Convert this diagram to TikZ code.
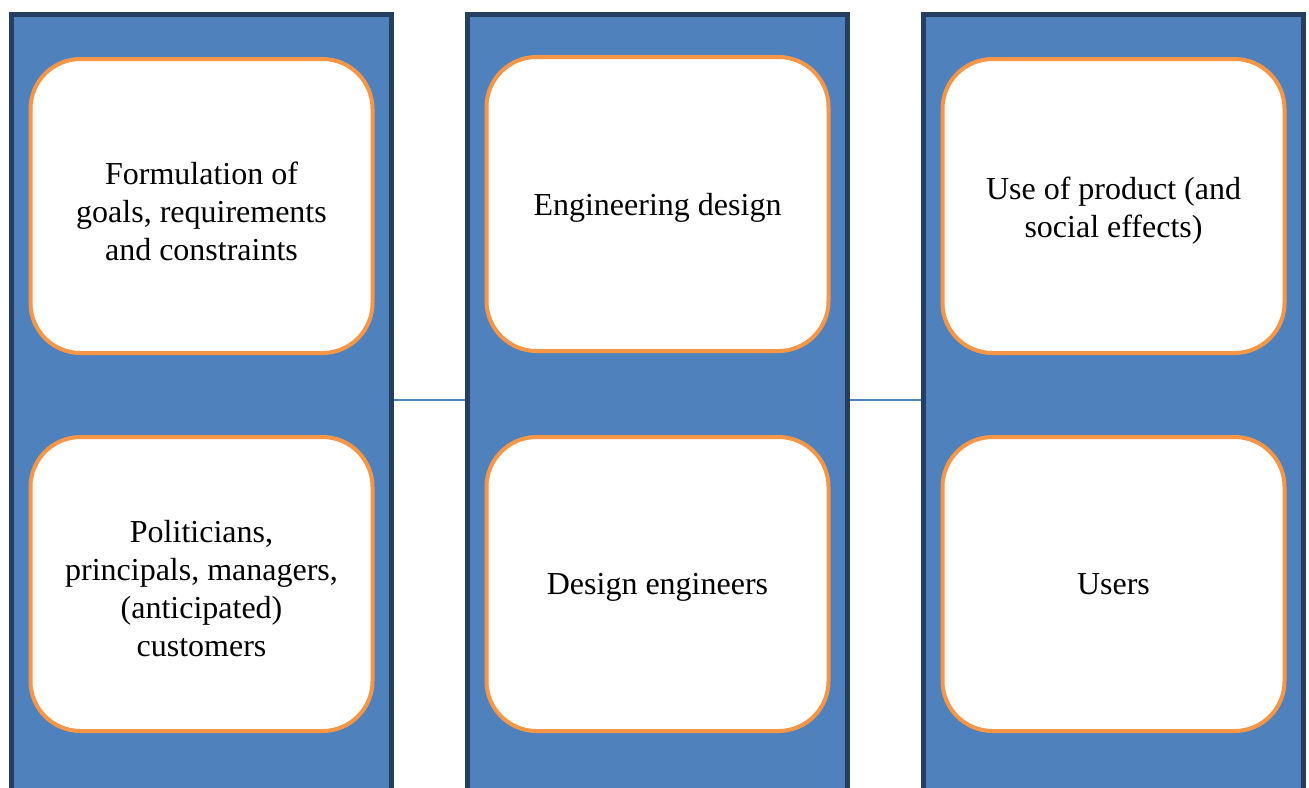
\documentclass[tikz,border=0pt]{standalone}
\usepackage{fontspec}
\setmainfont{Liberation Serif}
\usetikzlibrary{positioning}

\definecolor{colfill}{HTML}{4F81BD}
\definecolor{coldraw}{HTML}{243F60}
\definecolor{cardline}{HTML}{F79646}

\begin{document}
\begin{tikzpicture}[x=0.5pt,y=-0.5pt,node distance=228pt,on grid,
    column/.style={rectangle,fill=colfill,draw=coldraw,line width=2.5pt,
        minimum width=190pt,minimum height=392pt},
    card/.style={rectangle,rounded corners=25pt,fill=white,draw=cardline,line width=2pt,
        minimum width=171pt,minimum height=147pt,text width=150pt,align=flush center,
        font=\fontsize{16}{19}\selectfont,execute at end node={\endgraf\vspace*{-5pt}}},
    link/.style={draw=colfill,line width=0.75pt}]
        \useasboundingbox (0,0) rectangle (1309,787);
        \node[column] (left) at (201.5,406) {};
        \node[column] (mid) [right=of left] {};
        \node[column] (right) [right=of mid] {};

        \node[card] (goals) [above=100pt of left] {Formulation of\\ goals, requirements\\ and constraints};
        \node[card] (clients) [below=89pt of left] {Politicians,\\ principals, managers,\\ (anticipated)\\ customers};
        \node[card] (design) [above=101pt of mid] {Engineering design};
        \node[card] (engineers) [below=89pt of mid] {Design engineers};
        \node[card] (use) [above=100pt of right] {Use of product (and\\ social effects)};
        \node[card] (users) [below=89pt of right] {Users};

        \path[link]
        ([yshift=3pt]left.east) -- ([yshift=3pt]mid.west)
        ([yshift=3pt]mid.east) -- ([yshift=3pt]right.west)
        ;
    \end{tikzpicture}
\end{document}
